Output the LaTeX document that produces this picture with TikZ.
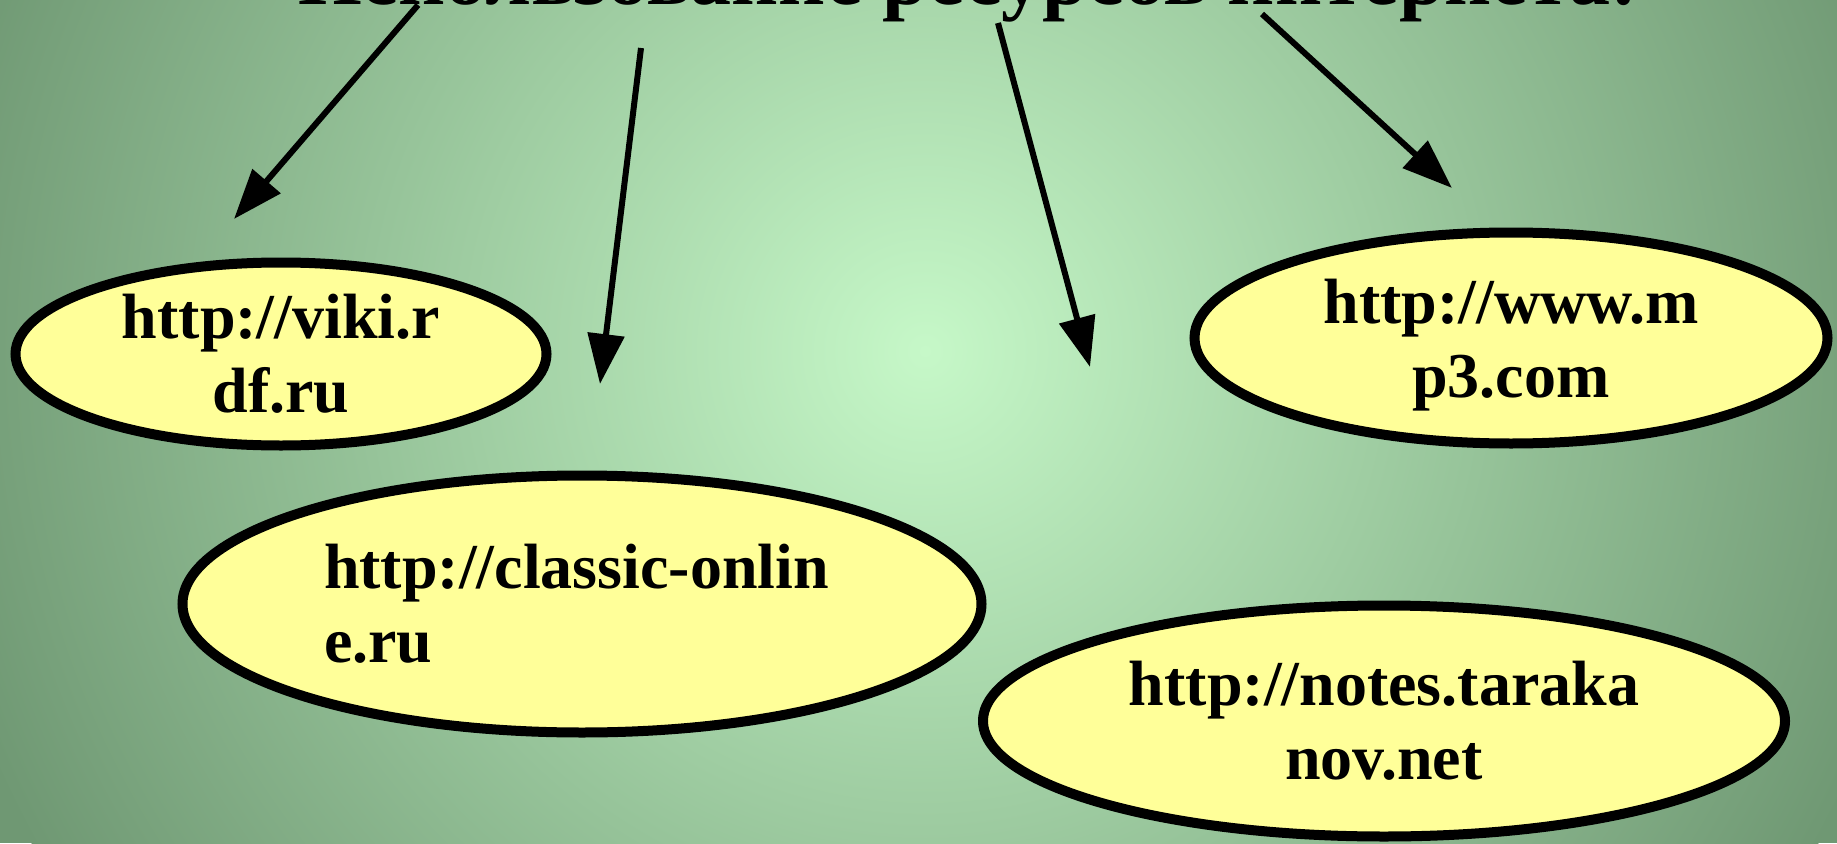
\documentclass[tikz,border=0pt]{standalone}
\usepackage{fontspec}
\setmainfont{Liberation Serif}
\usetikzlibrary{arrows.meta,shapes.geometric}
\definecolor{bgcentre}{HTML}{C6F8C8}
\definecolor{bgedge}{HTML}{6F9873}
\definecolor{sitefill}{HTML}{FFFF99}
\pgfdeclareradialshading{bgglow}{\pgfpoint{0bp}{0bp}}{color(0bp)=(bgcentre); color(25bp)=(bgedge); color(50bp)=(bgedge)}

\begin{document}
\begin{tikzpicture}[x=0.5pt, y=0.5pt,
    site/.style={ellipse, draw, line width=5pt, fill=sitefill, inner sep=0pt, align=center,
        font=\fontsize{32}{37}\selectfont\bfseries},
    link/.style={line width=3pt, -{Triangle[length=25pt, width=18pt]}}]
    \useasboundingbox (0,0) rectangle (1837,843);
    \fill[bgedge] (0,0) rectangle (1837,843);
    \begin{scope}
        \clip (0,0) rectangle (1837,843);
        \shade[shading=bgglow] (925,492) circle (1020);
    \end{scope}
    \node[font=\fontsize{41}{41}\selectfont\bfseries, anchor=base] (title) at (968,838) {Использование ресурсов интернета:};
    \node[site, minimum width=265.5pt, minimum height=91.5pt] (viki) at (281,489) {http://viki.r\\df.ru};
    \node[site, align=left, text width=258pt, minimum width=399.5pt, minimum height=128.5pt] (classic) at (582,239) {http://classic-onlin\\e.ru};
    \node[site, text depth=0pt, minimum width=316.5pt, minimum height=105.5pt] (mp3) at (1511,505) {http://www.m\\p3.com};
    \node[site, minimum width=401pt, minimum height=115.5pt] (notes) at (1384,122) {http://notes.taraka\\nov.net};
    \coordinate (a1s) at (418,838);
    \coordinate (a1e) at (234,624);
    \coordinate (a2s) at (641,795);
    \coordinate (a2e) at (600,459);
    \coordinate (a3s) at (998,820);
    \coordinate (a3e) at (1090,476);
    \coordinate (a4s) at (1262,829);
    \coordinate (a4e) at (1452,655);
    \draw[link] (a1s) -- (a1e);
    \draw[link] (a2s) -- (a2e);
    \draw[link] (a3s) -- (a3e);
    \draw[link] (a4s) -- (a4e);
\end{tikzpicture}
\end{document}
